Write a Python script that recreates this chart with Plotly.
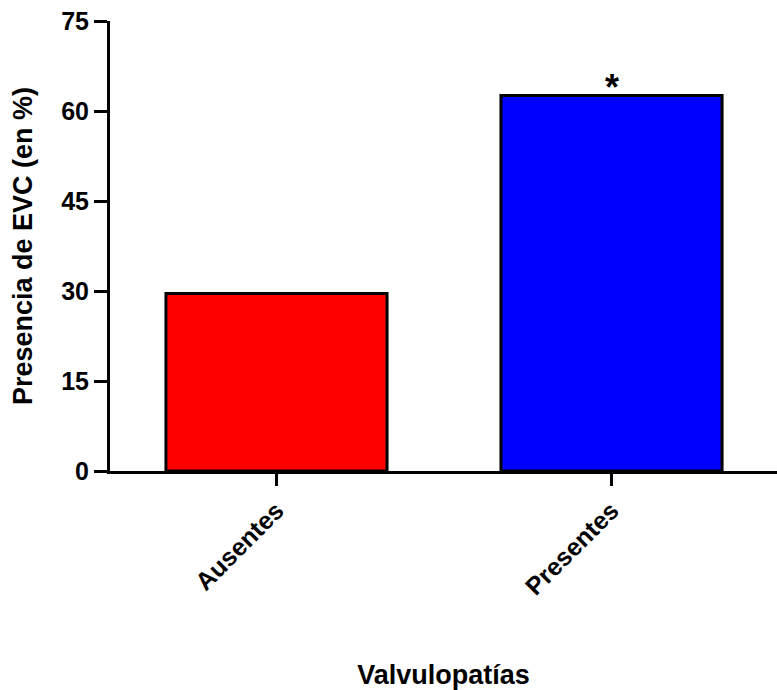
import plotly.graph_objects as go

categories = ["Ausentes", "Presentes"]
values = [29.6, 62.6]
colors = ["#ff0000", "#0000ff"]
marks = ["", "*"]
y_ticks = [0, 15, 30, 45, 60, 75]

FONT = "Liberation Sans, Arial, sans-serif"

fig = go.Figure()
fig.add_trace(go.Bar(
    x=categories, y=values, width=0.66,
    marker=dict(color=colors, line=dict(color="black", width=3)),
))

for c, v, m in zip(categories, values, marks):
    if m:
        fig.add_annotation(
            x=c, y=v, text=m, showarrow=False, yanchor="bottom", yshift=-15,
            font=dict(family=FONT, size=36, color="black", weight="bold"),
        )

fig.update_layout(
    width=777, height=690,
    margin=dict(l=110, r=0, t=21, b=219, autoexpand=False),
    plot_bgcolor="white", paper_bgcolor="white",
    showlegend=False,
    font=dict(family=FONT, color="black"),
    xaxis=dict(
        range=[-0.497, 1.494], showline=True, linewidth=3, linecolor="black",
        ticks="outside", ticklen=12, tickwidth=3, tickcolor="black",
        tickangle=-45, tickfont=dict(size=25, weight="bold", family=FONT),
        title=dict(text="Valvulopatías", font=dict(size=27, weight="bold", family=FONT), standoff=69),
        showgrid=False, zeroline=False, automargin=False,
    ),
    yaxis=dict(
        range=[0, 75], tickvals=y_ticks, showline=True, linewidth=3, linecolor="black",
        ticks="outside", ticklen=13, tickwidth=3, tickcolor="black",
        tickfont=dict(size=25, weight="bold", family=FONT),
        title=dict(text="Presencia de EVC (en %)", font=dict(size=27, weight="bold", family=FONT), standoff=21),
        showgrid=False, zeroline=False, automargin=False,
    ),
)

fig.write_html("out.html")
